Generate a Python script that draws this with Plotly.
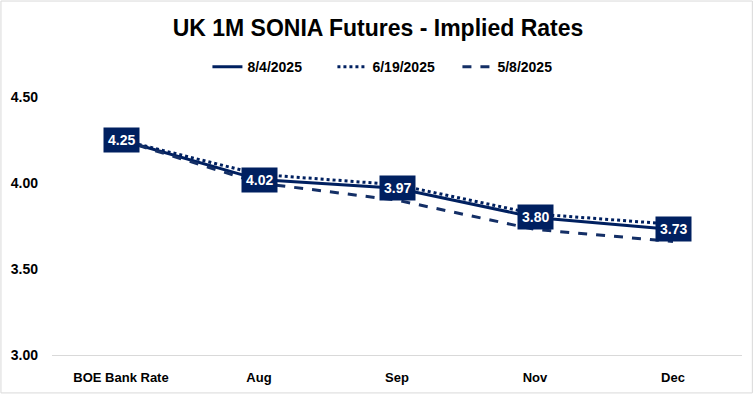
import plotly.graph_objects as go

categories = ["BOE Bank Rate", "Aug", "Sep", "Nov", "Dec"]
s_aug4 = [4.25, 4.02, 3.97, 3.80, 3.73]
s_jun19 = [4.25, 4.05, 3.99, 3.82, 3.76]
s_may8 = [4.25, 4.00, 3.90, 3.73, 3.66]
y_ticks = [3.00, 3.50, 4.00, 4.50]

NAVY = "#002060"
FONT = "Liberation Sans, Arial"

fig = go.Figure()
fig.add_trace(go.Scatter(x=categories, y=s_aug4, name="<b>8/4/2025</b>", mode="lines",
                         line=dict(color=NAVY, width=3, dash="solid")))
fig.add_trace(go.Scatter(x=categories, y=s_jun19, name="<b>6/19/2025</b>", mode="lines",
                         line=dict(color=NAVY, width=3, dash="dot")))
fig.add_trace(go.Scatter(x=categories, y=s_may8, name="<b>5/8/2025</b>", mode="lines",
                         line=dict(color="#142F66", width=3, dash="dash")))

for c, v in zip(categories, s_aug4):
    fig.add_annotation(x=c, y=v, xref="x", yref="y", text=f"<b>{v:.2f}</b>",
                       showarrow=False, bgcolor=NAVY, borderpad=4,
                       font=dict(color="white", size=14, family=FONT))

fig.update_layout(
    width=756, height=395,
    margin=dict(l=52, r=14, t=97, b=40, autoexpand=False),
    paper_bgcolor="white", plot_bgcolor="white",
    title=dict(text="<b>UK 1M SONIA Futures - Implied Rates</b>", x=0.5, xanchor="center",
               y=0.93, yanchor="middle", font=dict(size=23, family=FONT, color="black")),
    legend=dict(orientation="h", x=0.497, xanchor="center", y=1.116, yanchor="middle",
                font=dict(size=14, family=FONT, color="black"), entrywidth=80,
                traceorder="normal"),
    xaxis=dict(range=[-0.5, 4.5], showgrid=False, showline=True, linecolor="#D9D9D9", linewidth=1,
               ticks="", tickfont=dict(size=13, family=FONT, color="black"), ticklabelstandoff=10,
               tickangle=0, tickprefix="<b>", ticksuffix="</b>", fixedrange=True),
    yaxis=dict(range=[3.0, 4.5], tickvals=y_ticks, ticktext=[f"<b>{t:.2f}</b>" for t in y_ticks],
               showgrid=False, zeroline=False, showline=False, ticklabelstandoff=13,
               tickfont=dict(size=14, family=FONT, color="black"), fixedrange=True),
    shapes=[dict(type="rect", xref="paper", yref="paper", x0=-0.074, x1=1.015, y0=-0.147, y1=1.372,
                 line=dict(color="#D9D9D9", width=1))],
)

fig.write_html("out.html", config={"displayModeBar": False},
               post_script="document.body.style.margin='0px';")
